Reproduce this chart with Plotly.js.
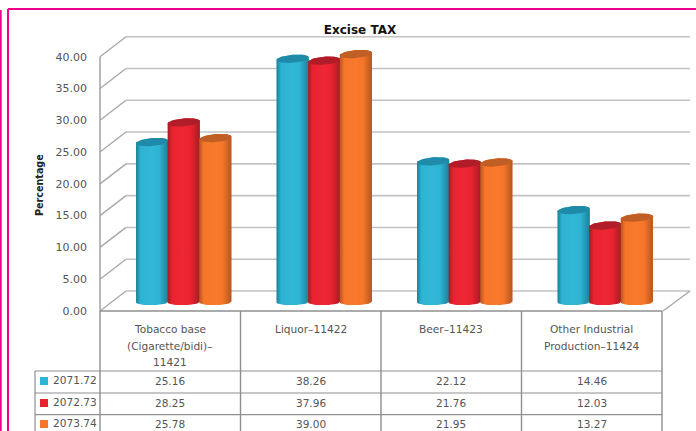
<!DOCTYPE html>
<html>
<head>
<meta charset="utf-8">
<script src="https://cdn.plot.ly/plotly-3.0.1.min.js"></script>
<style>html,body{margin:0;padding:0;background:#fff;overflow:hidden}#chart{width:696px;height:431px}</style>
</head>
<body>
<div id="chart"></div>
<script>
// ---- data ----
const categoryLines = [["Tobacco base", "(Cigarette/bidi)–", "11421"], ["Liquor–11422"], ["Beer–11423"], ["Other Industrial", "Production–11424"]];
const seriesNames = ["2071.72", "2072.73", "2073.74"];
const values2071 = [25.16, 38.26, 22.12, 14.46];
const values2072 = [28.25, 37.96, 21.76, 12.03];
const values2073 = [25.78, 39.00, 21.95, 13.27];
const yTicks = [0, 5, 10, 15, 20, 25, 30, 35, 40];

// ---- styling ----
const W = 696, H = 431;
const L = 100, R = 662, T = 20, B = 311;
const pxX = (R - L) / 4, pxY = (311 - 56.7) / 40;
const px = v => (v - L) / (R - L), py = v => (B - v) / (B - T);
const allValues = [values2071, values2072, values2073];
const base = ["#2db3d3", "#e8232f", "#f6762a"];
const dark = ["#1c7f98", "#a51c25", "#b4571f"];
const capc = ["#1f8ba8", "#b01c28", "#c05f25"];
const mid = ["#33b7d6", "#ee2635", "#f97a2b"];
const GRID = "#c2c2c2", TABLE = "#8f8f8f", WALL = "#a8a8a8", TEXT = "#555555", PINK = "#ec008c";
const FONT = "DejaVu Sans, sans-serif";

const barW = 31.6 / pxX, groupShift = 13.5 / pxX;
const floorLift = 9 / pxY, ry = 4 / pxY, tilt = 1.3 / pxY;
const xOf = (i, s) => i + groupShift + (s - 1) * barW;

const traces = [];
// real bars carrying the values
allValues.forEach((vals, s) => traces.push({
  type: "bar", name: seriesNames[s],
  x: vals.map((_, i) => xOf(i, s)), y: vals,
  base: vals.map(() => floorLift), width: barW,
  marker: { color: base[s], line: { width: 0 } },
  cliponaxis: false, showlegend: false
}));
// cylinder skin drawn over each bar
const N = 24;
allValues.forEach((vals, s) => vals.forEach((v, i) => {
  const cx = xOf(i, s), rx = barW / 2 + 0.3 / pxX, top = floorLift + v;
  const xs = [], ys = [], cxs = [], cys = [];
  for (let k = 0; k <= N; k++) {
    const a = Math.PI - Math.PI * k / N, c = Math.cos(a), h = Math.sin(a);
    xs.push(cx + rx * c); ys.push(floorLift - ry * h * 0.8 + tilt * c * 0.3);
  }
  for (let k = 0; k <= N; k++) {
    const a = Math.PI * k / N, c = Math.cos(a), h = Math.sin(a);
    xs.push(cx + rx * c); ys.push(top + ry * h + tilt * c);
  }
  xs.push(xs[0]); ys.push(ys[0]);
  traces.push({
    type: "scatter", mode: "lines", x: xs, y: ys, fill: "toself",
    line: { width: 0, color: dark[s] }, hoverinfo: "skip", showlegend: false, cliponaxis: false,
    fillgradient: { type: "horizontal", colorscale: [[0, dark[s]], [0.14, base[s]], [0.5, mid[s]], [0.72, base[s]], [1, dark[s]]] }
  });
  for (let k = 0; k <= 2 * N; k++) {
    const a = 2 * Math.PI * k / (2 * N), c = Math.cos(a), h = Math.sin(a);
    cxs.push(cx + rx * c); cys.push(top + ry * h + tilt * c);
  }
  traces.push({
    type: "scatter", mode: "lines", x: cxs, y: cys, fill: "toself", fillcolor: capc[s],
    line: { width: 0, color: capc[s] }, hoverinfo: "skip", showlegend: false, cliponaxis: false
  });
}));

// walls and gridlines
const shapes = [];
const line = (x0, y0, x1, y1, color, width) => shapes.push({
  type: "line", xref: "paper", yref: "paper", layer: "below",
  x0: px(x0), y0: py(y0), x1: px(x1), y1: py(y1), line: { color, width }
});
const dX = 26, dY = 20;
yTicks.forEach(t => {
  const y = 311 - t * pxY;
  line(L, y, L + dX, y - dY, WALL, 1.4);
  line(L + dX, y - dY, 690, y - dY, GRID, 1.6);
});
line(L, 56.7, L, B, WALL, 1.6);
line(690, B - dY, R + 1, B, WALL, 1.4);

// table
const rowY = [371, 393, 414.7];
line(L, B, R, B, TABLE, 1.4);
[L, L + pxX, L + 2 * pxX, L + 3 * pxX, R].forEach(x => line(x, B, x, H, TABLE, 1.4));
rowY.forEach(y => line(35, y, R, y, TABLE, 1.2));
line(35, rowY[0], 35, H, TABLE, 1.2);

// page frame
line(8, 9, W, 9, PINK, 2);
line(8, 9, 8, H, PINK, 2);
line(0.7, 10, 0.7, H, PINK, 2);

// table text and swatches
const annotations = [];
const rowMid = [381, 403, 424];
const note = (x, y, text, size, color, anchor, extra) => annotations.push(Object.assign({
  xref: "paper", yref: "paper", x: px(x), y: py(y), text, showarrow: false,
  xanchor: anchor, yanchor: "middle", font: { family: FONT, size, color }
}, extra || {}));
categoryLines.forEach((lines, i) => lines.forEach((t, k) => {
  note(L + (i + 0.5) * pxX, 329 + k * 16.5, t, 10.6, TEXT, "center");
}));
allValues.forEach((vals, s) => {
  vals.forEach((v, i) => note(L + (i + 0.5) * pxX, rowMid[s], v.toFixed(2), 10.5, TEXT, "center"));
  note(51, rowMid[s] - 1, seriesNames[s], 10.6, TEXT, "left");
  shapes.push({
    type: "rect", xref: "paper", yref: "paper", layer: "above",
    x0: px(40), x1: px(48), y0: py(rowMid[s] - 4), y1: py(rowMid[s] + 4),
    fillcolor: base[s], line: { width: 0 }
  });
});
note(39, 185, "<b>Percentage</b>", 9.6, "#222", "center", { textangle: -90 });

const layout = {
  width: W, height: H, paper_bgcolor: "#fff", plot_bgcolor: "rgba(0,0,0,0)",
  margin: { l: L, r: W - R, t: T, b: H - B, pad: 0 },
  showlegend: false, barmode: "overlay",
  title: { text: "<b>Excise TAX</b>", x: 360 / W, xanchor: "center", y: 1 - 30 / H, yanchor: "middle", font: { family: FONT, size: 12, color: "#111" } },
  xaxis: { range: [-0.5, 3.5], showticklabels: false, showgrid: false, zeroline: false, showline: false, ticks: "" },
  yaxis: {
    range: [0, (B - T) / pxY], tickmode: "array", tickvals: yTicks, ticktext: yTicks.map(t => t.toFixed(2)),
    showgrid: false, zeroline: false, showline: false, ticks: "", ticklabelstandoff: 12,
    tickfont: { family: FONT, size: 11, color: TEXT }
  },
  shapes, annotations
};
Plotly.newPlot("chart", traces, layout, { displayModeBar: false, staticPlot: true });
</script>
</body>
</html>
